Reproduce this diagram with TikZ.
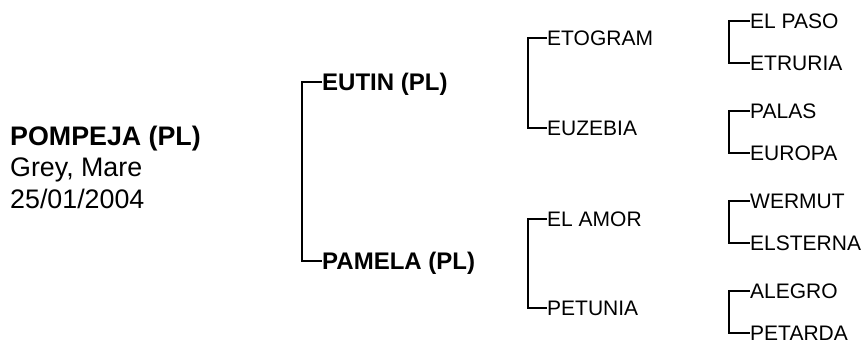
\documentclass[tikz,border=0pt]{standalone}
\usepackage{fontspec}
\setmainfont{Liberation Sans}
\begin{document}
\begin{tikzpicture}[x=1pt,y=-1pt,
  horse/.style={anchor=base west,inner sep=0pt,font=\fontsize{26.8}{31}\selectfont},
  sire/.style={anchor=west,inner sep=0pt,text depth=0pt,text height=17.2pt,font=\fontsize{24}{29}\selectfont\bfseries},
  anc/.style={anchor=west,inner sep=0pt,text depth=0pt,text height=15pt,font=\fontsize{21}{25}\selectfont},
  bracket/.style={line width=2pt}]
\useasboundingbox (0,0) rectangle (866,346);
\node[horse,font=\fontsize{26.8}{31}\selectfont\bfseries] (pompeja) at (10,145) {POMPEJA (PL)};
\node[horse] (colour) at (10,176) {Grey, Mare};
\node[horse] (born) at (10,208) {25/01/2004};
\node[sire] (eutin) at (322,82) {EUTIN (PL)};
\node[sire] (pamela) at (322,261) {PAMELA (PL)};
\node[anc] (etogram) at (547,38) {ETOGRAM};
\node[anc] (euzebia) at (547,128) {EUZEBIA};
\node[anc] (elamor) at (547,219) {EL AMOR};
\node[anc] (petunia) at (547,308) {PETUNIA};
\node[anc] (elpaso) at (750,21) {EL PASO};
\node[anc] (etruria) at (750,63) {ETRURIA};
\node[anc] (palas) at (750,111) {PALAS};
\node[anc] (europa) at (750,153) {EUROPA};
\node[anc] (wermut) at (750,201) {WERMUT};
\node[anc] (elsterna) at (750,243) {ELSTERNA};
\node[anc] (alegro) at (750,291) {ALEGRO};
\node[anc] (petarda) at (750,333) {PETARDA};
\draw[bracket] (eutin.west) -- ++(-20,0) |- (pamela.west);
\draw[bracket] (etogram.west) -- ++(-19,0) |- (euzebia.west);
\draw[bracket] (elamor.west) -- ++(-19,0) |- (petunia.west);
\draw[bracket] (elpaso.west) -- ++(-21,0) |- (etruria.west);
\draw[bracket] (palas.west) -- ++(-21,0) |- (europa.west);
\draw[bracket] (wermut.west) -- ++(-21,0) |- (elsterna.west);
\draw[bracket] (alegro.west) -- ++(-21,0) |- (petarda.west);
\end{tikzpicture}
\end{document}
